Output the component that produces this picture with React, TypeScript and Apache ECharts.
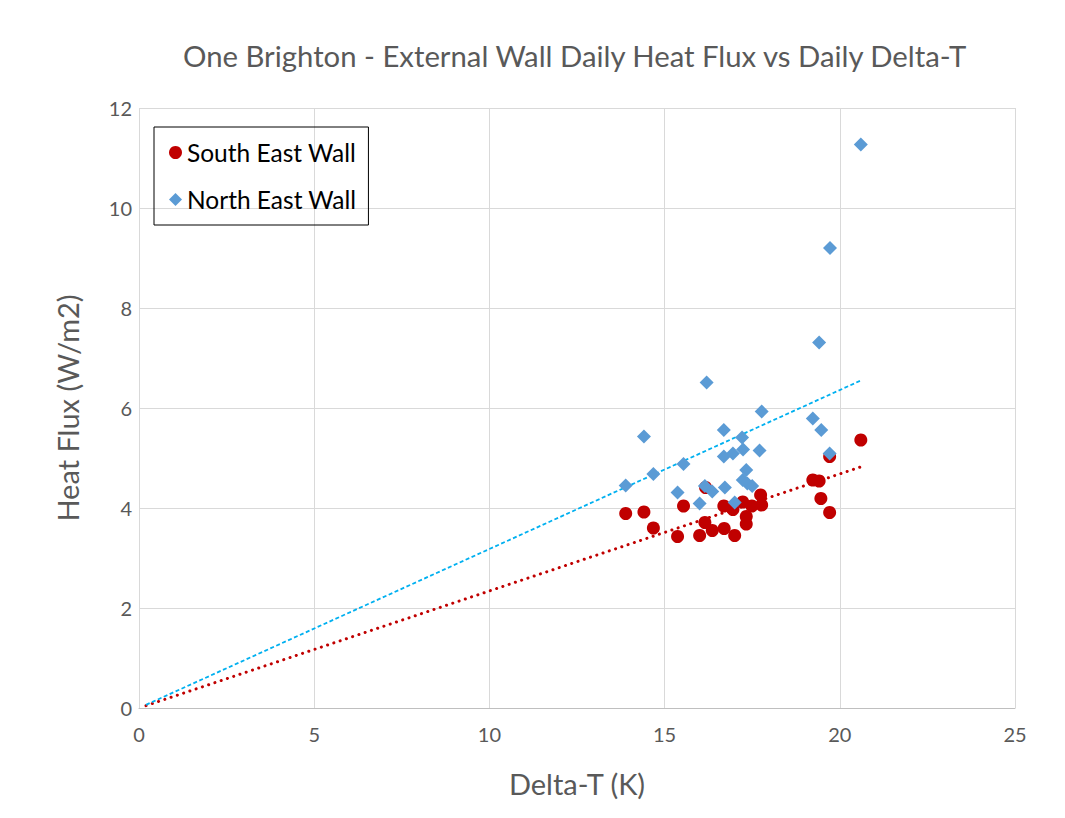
import React, { useEffect, useRef } from "react";
import * as echarts from "echarts";

const TITLE = "One Brighton - External Wall Daily Heat Flux vs Daily Delta-T";
const X_TICKS = [0, 5, 10, 15, 20, 25];
const Y_TICKS = [0, 2, 4, 6, 8, 10, 12];

const southEastX = [13.89, 14.41, 14.68, 15.37, 15.54, 16.0, 16.15, 16.17, 16.36, 16.69, 16.7, 16.95, 17.0, 17.23, 17.33, 17.33, 17.49, 17.74, 17.77, 19.23, 19.41, 19.46, 19.71, 19.71, 20.6];
const southEastY = [3.89, 3.92, 3.6, 3.43, 4.04, 3.45, 3.71, 4.41, 3.55, 4.04, 3.59, 3.97, 3.45, 4.12, 3.83, 3.68, 4.04, 4.26, 4.06, 4.56, 4.54, 4.19, 5.03, 3.91, 5.36];

const northEastX = [13.89, 14.41, 14.68, 15.37, 15.54, 16.0, 16.15, 16.2, 16.36, 16.69, 16.69, 16.72, 16.95, 17.0, 17.21, 17.23, 17.24, 17.33, 17.36, 17.5, 17.71, 17.77, 19.23, 19.41, 19.47, 19.71, 19.72, 20.6];
const northEastY = [4.45, 5.43, 4.68, 4.31, 4.88, 4.09, 4.44, 6.51, 4.33, 5.56, 5.03, 4.41, 5.09, 4.11, 5.41, 4.56, 5.17, 4.76, 4.49, 4.44, 5.15, 5.93, 5.79, 7.31, 5.56, 5.09, 9.2, 11.27];

const TREND_START = 0.2;

const pair = (xs: number[], ys: number[]) => xs.map((x, i) => [x, ys[i]]);
const trend = (xs: number[], ys: number[]) => {
  let sxy = 0, sxx = 0;
  xs.forEach((x, i) => { sxy += x * ys[i]; sxx += x * x; });
  const k = sxy / sxx;
  const xmax = Math.max(...xs);
  return [[TREND_START, k * TREND_START], [xmax, k * xmax]];
};

const FONT = "Lato, 'Noto Sans', sans-serif";
const GREY = "#595959";

export default function App() {
  const ref = useRef<HTMLDivElement>(null);
  useEffect(() => {
    const chart = echarts.init(ref.current!, null, { renderer: "svg" });
    chart.setOption({
      animation: false,
      backgroundColor: "#ffffff",
      textStyle: { fontFamily: FONT },
      title: {
        text: TITLE,
        left: 178,
        top: 36,
        textStyle: { fontFamily: FONT, fontSize: 29.3, fontWeight: "normal", color: GREY },
      },
      graphic: [
        { type: "rect", shape: { x: 0.5, y: 5.5, width: 1063, height: 811 }, style: { fill: "none", stroke: "#d9d9d9", lineWidth: 1 }, silent: true },
      ],
      legend: {
        orient: "vertical",
        left: 154,
        top: 127,
        data: [
          { name: "South East Wall", icon: "circle" },
          { name: "North East Wall", icon: "diamond" },
        ],
        itemWidth: 13,
        itemHeight: 13,
        itemGap: 22,
        padding: [13, 12, 13, 15],
        borderColor: "#000000",
        borderWidth: 1,
        textStyle: { fontFamily: FONT, fontSize: 24.5, color: "#000000" },
      },
      grid: { left: 139, top: 108, right: 50, bottom: 110, containLabel: false },
      xAxis: {
        type: "value",
        min: X_TICKS[0],
        max: X_TICKS[X_TICKS.length - 1],
        interval: X_TICKS[1] - X_TICKS[0],
        name: "Delta-T (K)",
        nameLocation: "middle",
        nameGap: 61,
        nameTextStyle: { fontFamily: FONT, fontSize: 29, color: GREY },
        axisLine: { lineStyle: { color: "#bfbfbf", width: 1 } },
        axisTick: { show: false },
        axisLabel: { fontFamily: FONT, fontSize: 20, color: GREY, margin: 16 },
        splitLine: { lineStyle: { color: "#d9d9d9", width: 1 } },
      },
      yAxis: {
        type: "value",
        min: Y_TICKS[0],
        max: Y_TICKS[Y_TICKS.length - 1],
        interval: Y_TICKS[1] - Y_TICKS[0],
        name: "Heat Flux (W/m2)",
        nameLocation: "middle",
        nameGap: 57,
        nameTextStyle: { fontFamily: FONT, fontSize: 29, color: GREY },
        axisLine: { show: false },
        axisTick: { show: false },
        axisLabel: { fontFamily: FONT, fontSize: 20, color: GREY, margin: 7 },
        splitLine: { lineStyle: { color: "#d9d9d9", width: 1 } },
      },
      series: [
        {
          name: "South East Wall trend",
          type: "line",
          data: trend(southEastX, southEastY),
          symbol: "none",
          lineStyle: { color: "#C00000", width: 3, type: [0.1, 6.5], cap: "round" },
          z: 1,
        },
        {
          name: "North East Wall trend",
          type: "line",
          data: trend(northEastX, northEastY),
          symbol: "none",
          lineStyle: { color: "#00B0F0", width: 1.8, type: [4, 2.5] },
          z: 1,
        },
        {
          name: "South East Wall",
          type: "scatter",
          data: pair(southEastX, southEastY),
          symbol: "circle",
          symbolSize: 13,
          itemStyle: { color: "#C00000", opacity: 1 },
          z: 2,
        },
        {
          name: "North East Wall",
          type: "scatter",
          data: pair(northEastX, northEastY),
          symbol: "diamond",
          symbolSize: 14,
          itemStyle: { color: "#5B9BD5", opacity: 1 },
          z: 3,
        },
      ],
    });
    return () => chart.dispose();
  }, []);
  return <div ref={ref} style={{ width: 1065, height: 818, margin: -8 }} />;
}
